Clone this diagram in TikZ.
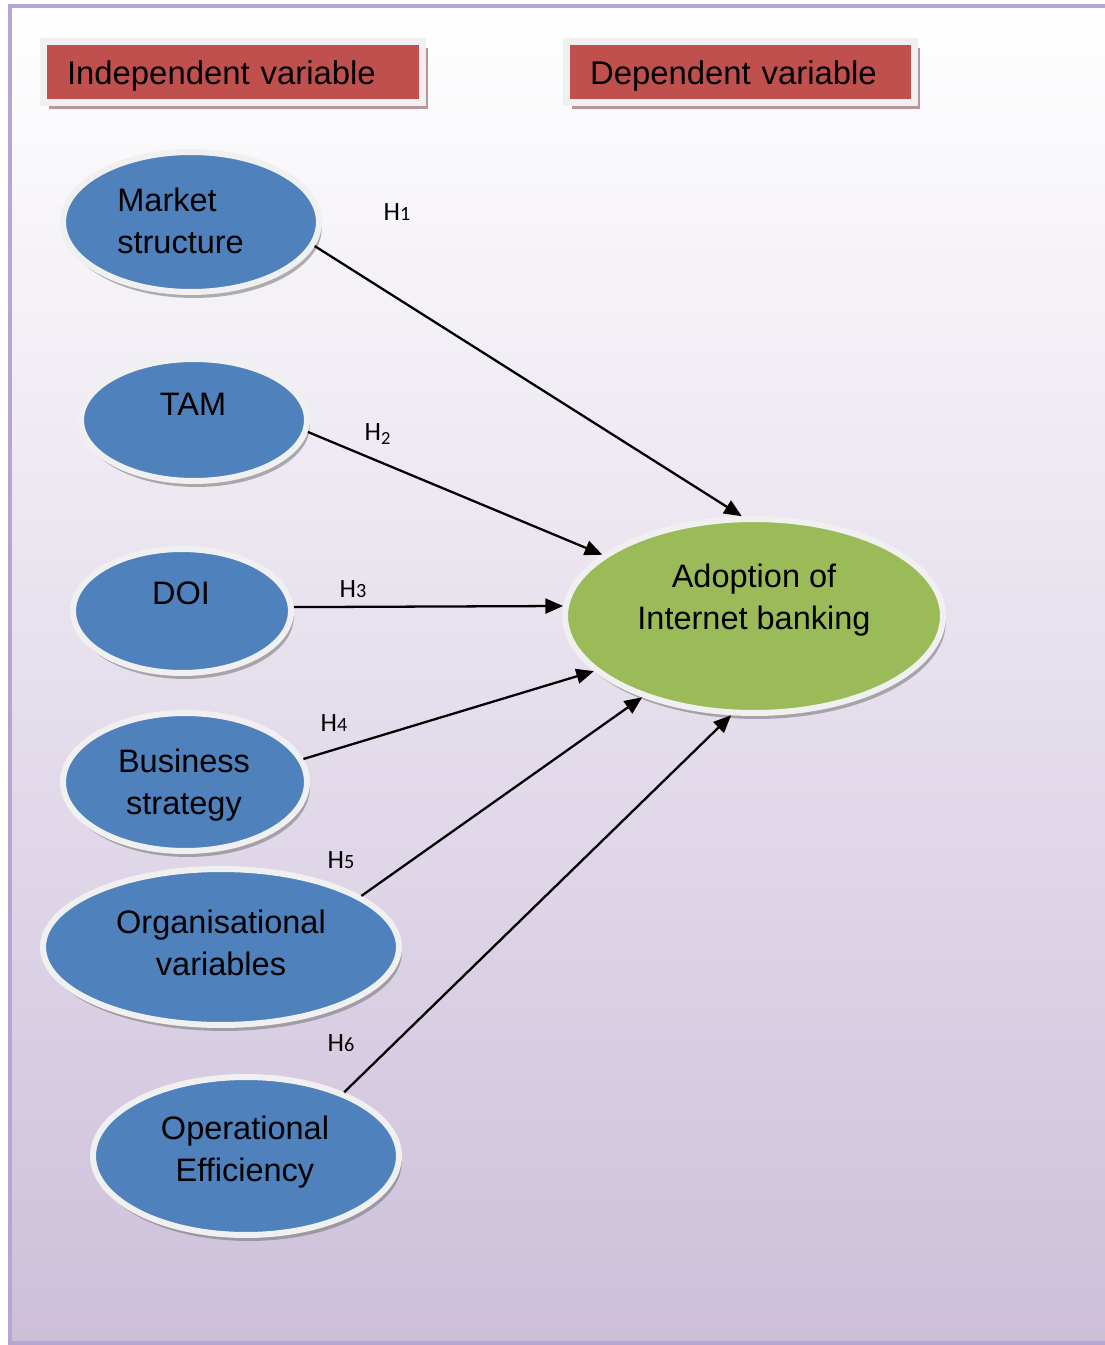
\documentclass[tikz,border=0pt]{standalone}
\usepackage{fontspec}
\setmainfont{Liberation Sans}
\newfontfamily\hypfont{Carlito}
\usetikzlibrary{shapes.geometric,arrows.meta,shadows}

\definecolor{varred}{HTML}{C0504D}
\definecolor{varblue}{HTML}{4F81BD}
\definecolor{vargreen}{HTML}{9BBB59}
\definecolor{rimgray}{HTML}{F0F0F0}
\definecolor{bglav}{HTML}{CDBFDA}
\definecolor{framelav}{HTML}{B6A6D2}
\definecolor{boxshade}{HTML}{B99595}

\newcommand\hnum[1]{{\fontsize{11.5}{12}\selectfont #1}}
\newcommand\hdrtext[1]{\raisebox{-2.3pt}[\height][\depth]{#1}}

\begin{document}
\begin{tikzpicture}[x=0.02cm,y=-0.02cm]

\tikzset{
  header/.style={rectangle, fill=varred, draw=rimgray, line width=0.14cm,
    minimum height=1.22cm, inner xsep=0.47cm, align=left,
    font=\fontsize{18.7}{22}\selectfont,
    drop shadow={shadow xshift=3.2pt, shadow yshift=-3.6pt, fill=boxshade, opacity=1}},
  ell/.style={ellipse, draw=rimgray, line width=0.12cm, inner sep=0pt,
    drop shadow={shadow xshift=1.6pt, shadow yshift=-3.4pt, fill=black!55, opacity=.55}},
  indep/.style={ell, fill=varblue},
  dep/.style={ell, fill=vargreen},
  etxt/.style={font=\fontsize{18.5}{24}\selectfont, align=center, inner sep=0pt},
  hlab/.style={font=\hypfont\fontsize{15}{17}\selectfont, inner sep=0pt},
  hyp/.style={-{Triangle[length=10pt,width=8.5pt]}, line width=1.3pt}
}

\useasboundingbox (0,0) rectangle (1105,1345);

% background and frame
\shade[top color=white, bottom color=bglav] (10,6) rectangle (1115,1343);
\draw[framelav, line width=2.2pt] (10,6) rectangle (1115,1343);

% headers
\node[header, text width=6.64cm] (indep) at (233,72) {\hdrtext{Independent variable}};
\node[header, text width=6.02cm] (dep) at (740.5,72) {\hdrtext{Dependent variable}};

% variables
\node[indep, minimum width=5.12cm, minimum height=2.8cm] (ms) at (191,222) {};
\node[etxt, anchor=west, align=left] (ms-t) at (117,221) {Market\\structure};

\node[indep, minimum width=4.52cm, minimum height=2.44cm] (tam) at (194,420) {};
\node[etxt] (tam-t) at (193,404) {TAM};

\node[indep, minimum width=4.36cm, minimum height=2.48cm] (doi) at (182,611) {};
\node[etxt] (doi-t) at (181,593) {DOI};

\node[indep, minimum width=4.88cm, minimum height=2.76cm] (bs) at (185,782) {};
\node[etxt] (bs-t) at (184,785) {Business\\strategy};

\node[indep, minimum width=7.12cm, minimum height=3.12cm] (ov) at (221,947) {};
\node[etxt] (ov-t) at (221,943) {Organisational\\variables};

\node[indep, minimum width=6.12cm, minimum height=3.16cm] (oe) at (246,1156) {};
\node[etxt] (oe-t) at (245,1152) {Operational\\Efficiency};

\node[dep, minimum width=7.56cm, minimum height=3.88cm] (adopt) at (754,616) {};
\node[etxt] (adopt-t) at (754,600) {Adoption of\\Internet banking};

% hypotheses
\draw[hyp] (ms.-11.6) -- (adopt.97.6);
\draw[hyp] (tam.-6.2) -- (adopt.158.9);
\draw[hyp] (doi.2.4) -- (adopt.177);
\draw[hyp] (bs.11.2) -- (adopt.199.7);
\draw[hyp] (ov.20.8) -- (adopt.216);
\draw[hyp] (oe.33.3) -- (adopt.257.4);

\node[hlab] (h1) at (397,212) {H\hnum{1}};
\node[hlab] (h2) at (378,434) {H\textsubscript{2}};
\node[hlab] (h3) at (353,589) {H\hnum{3}};
\node[hlab] (h4) at (334,723) {H\hnum{4}};
\node[hlab] (h5) at (341,860) {H\hnum{5}};
\node[hlab] (h6) at (341,1043) {H\hnum{6}};

\end{tikzpicture}
\end{document}
